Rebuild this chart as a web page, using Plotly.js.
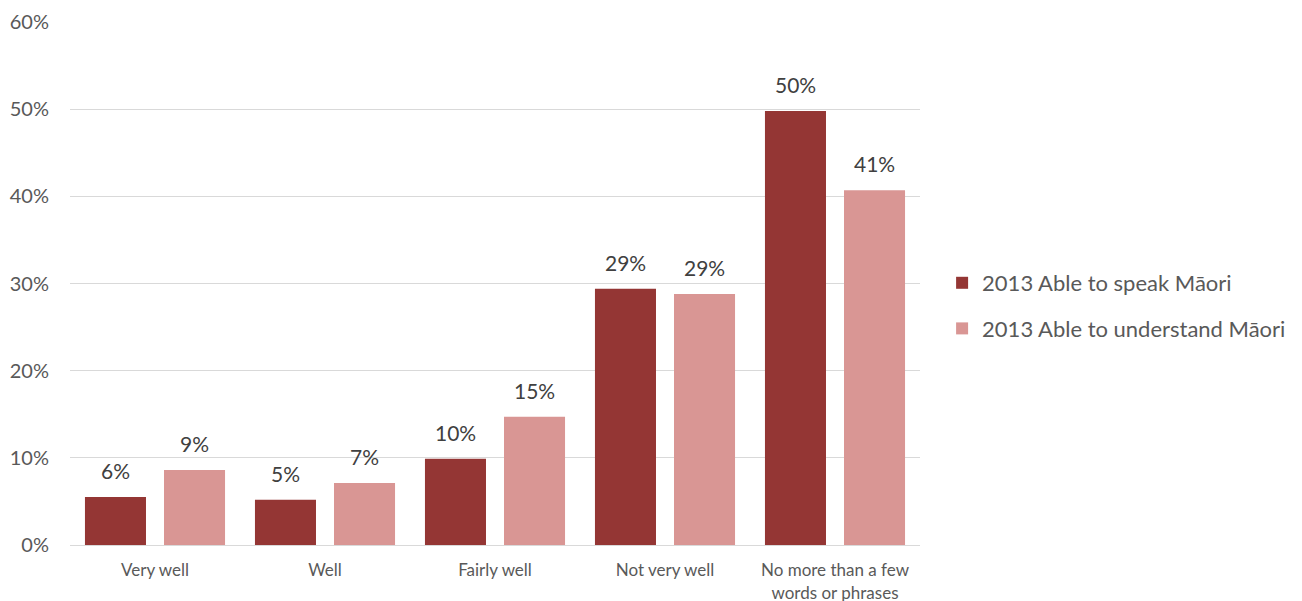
<!DOCTYPE html>
<html>
<head>
<meta charset="utf-8">
<script src="https://cdn.plot.ly/plotly-3.0.1.min.js"></script>
<style>html,body{margin:0;padding:0;background:#fff;}#chart{width:1302px;height:601px;}</style>
</head>
<body>
<div id="chart"></div>
<script>
const categories = ["Very well", "Well", "Fairly well", "Not very well", "No more than a few<br>words or phrases"];
const seriesNames = ["2013 Able to speak Māori", "2013 Able to understand Māori"];
const speakValues = [5.5, 5.2, 9.9, 29.4, 49.8];
const understandValues = [8.6, 7.1, 14.7, 28.8, 40.7];
const yTickValues = [0, 10, 20, 30, 40, 50, 60];

const colors = ["#943634", "#D99694"];
const FONT = "Lato, 'Open Sans', sans-serif";
const TEXT = "#595959";
const LABEL = "#404040";

function mk(name, vals, color, grp) {
  return {
    type: "bar",
    name: name,
    x: categories,
    y: vals,
    marker: { color: color },
    legendgroup: grp,
    hoverinfo: "x+y"
  };
}

const data = [
  mk(seriesNames[0], speakValues, colors[0], "a"),
  mk(seriesNames[1], understandValues, colors[1], "b")
];

const annotations = [];
[[speakValues, -39.5], [understandValues, 39.5]].forEach(([vals, dx]) => {
  vals.forEach((v, i) => {
    annotations.push({
      x: categories[i], y: v, xref: "x", yref: "y",
      text: Math.round(v) + "%",
      showarrow: false,
      yanchor: "bottom",
      xshift: dx,
      yshift: 12,
      font: { family: FONT, size: 21, color: LABEL }
    });
  });
});

const layout = {
  width: 1302,
  height: 601,
  margin: { l: 70, r: 382, t: 22, b: 56, autoexpand: false },
  paper_bgcolor: "#fff",
  plot_bgcolor: "#fff",
  barmode: "group",
  bargap: 0.07,
  bargroupgap: 0.228,
  font: { family: FONT, color: TEXT },
  annotations: annotations,
  xaxis: {
    tickfont: { family: FONT, size: 17, color: TEXT },
    showgrid: false,
    showline: true,
    linecolor: "#D9D9D9",
    linewidth: 1,
    ticks: "",
    tickangle: 0,
    ticklabelstandoff: 10,
    automargin: false
  },
  yaxis: {
    range: [0, 60],
    tickvals: yTickValues,
    ticktext: yTickValues.map(v => v + "%"),
    tickfont: { family: FONT, size: 20, color: TEXT },
    showgrid: true,
    gridcolor: "#D9D9D9",
    gridwidth: 1,
    zeroline: true,
    zerolinecolor: "#D9D9D9",
    showline: false,
    ticks: "",
    ticklabelstandoff: 20,
    automargin: false
  },
  legend: {
    x: 1.026,
    xanchor: "left",
    y: 0.457,
    yanchor: "middle",
    font: { family: FONT, size: 22, color: TEXT },
    tracegroupgap: 14,
    itemwidth: 30,
    bgcolor: "rgba(0,0,0,0)"
  },
  showlegend: true
};

Plotly.newPlot("chart", data, layout, { displayModeBar: false, staticPlot: true });
</script>
</body>
</html>
